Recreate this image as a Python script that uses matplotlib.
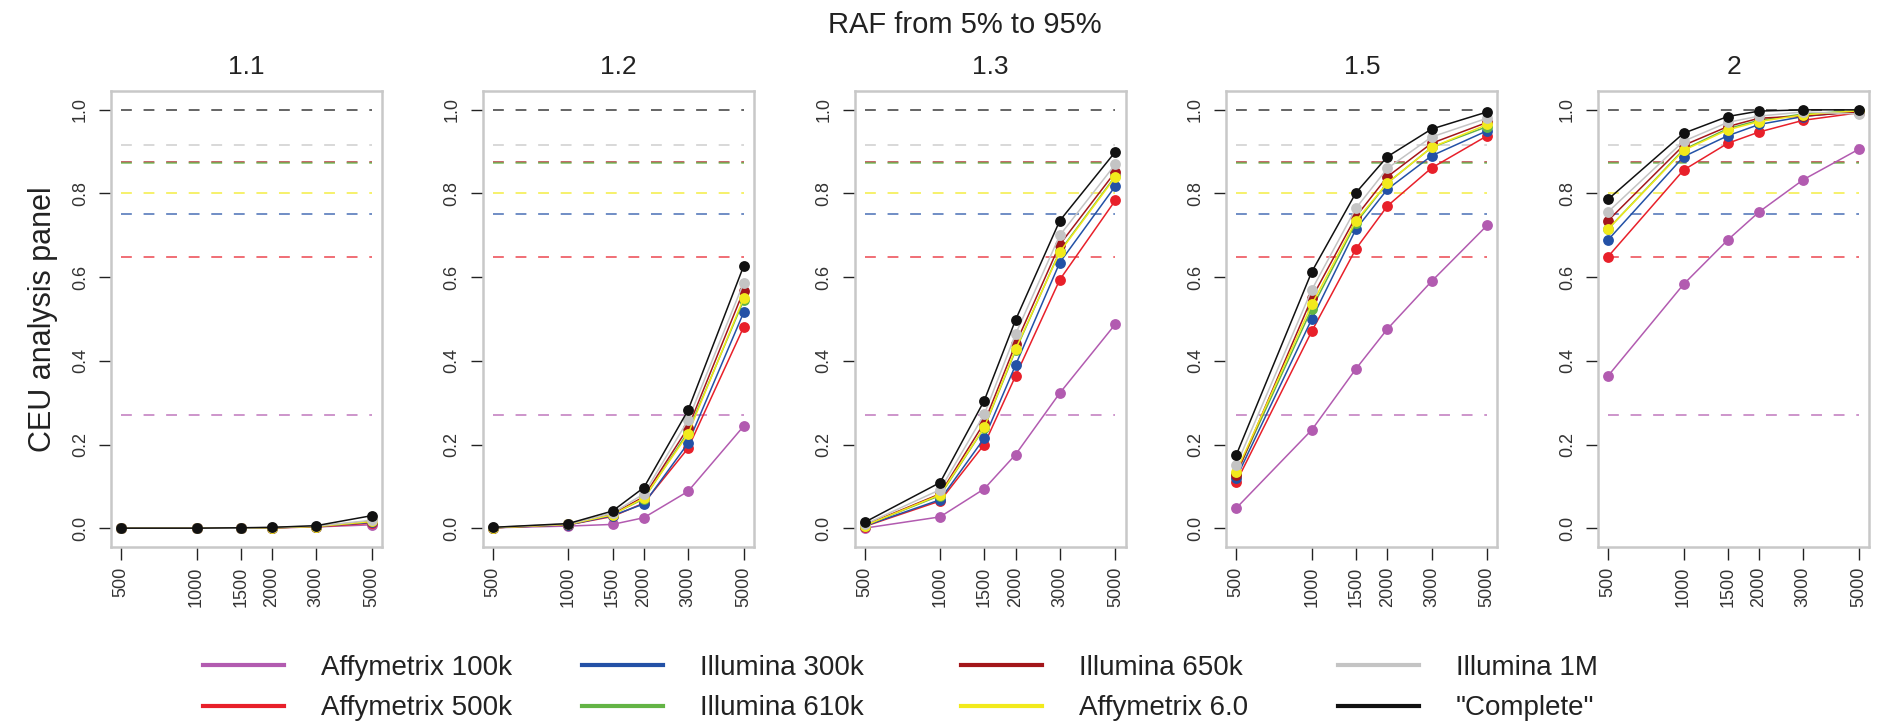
import matplotlib
matplotlib.use('Agg')
import matplotlib.pyplot as plt
from matplotlib.lines import Line2D

plt.rcParams['font.family'] = ['Liberation Sans', 'DejaVu Sans']

# sample sizes (x) and panel titles (relative risk)
sizes = [500, 1000, 1500, 2000, 3000, 5000]
panels = ['1.1', '1.2', '1.3', '1.5', '2']

platforms = ['Affymetrix 100k', 'Affymetrix 500k', 'Illumina 300k', 'Illumina 610k',
             'Illumina 650k', 'Affymetrix 6.0', 'Illumina 1M', '"Complete"']
colors = ['#b25bb0', '#e8202a', '#2351a6', '#63b445', '#a3161a', '#f2ea1c', '#c4c4c4', '#111111']

# coverage of each platform (dashed reference lines)
coverage = [0.27, 0.648, 0.752, 0.872, 0.875, 0.802, 0.915, 1.0]
dash_order = [0, 1, 2, 4, 3, 5, 6, 7]

# power per panel, one row per panel (1.1, 1.2, 1.3, 1.5, 2)
affy100k = [[0, 0, 0, 0.001, 0.003, 0.008],
            [0.001, 0.005, 0.009, 0.025, 0.088, 0.244],
            [0.0, 0.027, 0.094, 0.176, 0.323, 0.488],
            [0.048, 0.235, 0.381, 0.476, 0.590, 0.724],
            [0.364, 0.583, 0.689, 0.756, 0.833, 0.906]]
affy500k = [[0, 0, 0, 0.001, 0.003, 0.012],
            [0.001, 0.008, 0.028, 0.060, 0.191, 0.481],
            [0.004, 0.065, 0.200, 0.364, 0.594, 0.784],
            [0.110, 0.471, 0.668, 0.770, 0.861, 0.938],
            [0.649, 0.856, 0.920, 0.947, 0.975, 0.993]]
ill300k = [[0, 0, 0, 0.001, 0.004, 0.014],
           [0.001, 0.008, 0.030, 0.058, 0.203, 0.516],
           [0.005, 0.068, 0.215, 0.390, 0.635, 0.818],
           [0.120, 0.500, 0.715, 0.810, 0.890, 0.950],
           [0.689, 0.888, 0.938, 0.965, 0.984, 0.997]]
ill610k = [[0, 0, 0, 0.001, 0.004, 0.016],
           [0.001, 0.009, 0.033, 0.070, 0.230, 0.545],
           [0.006, 0.078, 0.240, 0.425, 0.662, 0.842],
           [0.130, 0.525, 0.730, 0.825, 0.910, 0.960],
           [0.715, 0.905, 0.955, 0.975, 0.990, 0.998]]
ill650k = [[0, 0, 0, 0.001, 0.004, 0.017],
           [0.001, 0.009, 0.034, 0.075, 0.240, 0.568],
           [0.007, 0.082, 0.252, 0.440, 0.678, 0.852],
           [0.128, 0.550, 0.745, 0.840, 0.920, 0.970],
           [0.735, 0.915, 0.960, 0.980, 0.985, 0.995]]
affy6 = [[0, 0, 0, 0.001, 0.004, 0.016],
         [0.001, 0.009, 0.032, 0.072, 0.225, 0.550],
         [0.006, 0.080, 0.241, 0.428, 0.660, 0.840],
         [0.135, 0.535, 0.735, 0.825, 0.910, 0.965],
         [0.715, 0.903, 0.952, 0.972, 0.988, 0.998]]
ill1m = [[0, 0, 0, 0.002, 0.005, 0.019],
         [0.002, 0.010, 0.036, 0.082, 0.258, 0.587],
         [0.009, 0.092, 0.272, 0.464, 0.700, 0.870],
         [0.150, 0.570, 0.765, 0.860, 0.935, 0.980],
         [0.756, 0.925, 0.970, 0.985, 0.995, 0.990]]
complete = [[0, 0, 0.001, 0.002, 0.006, 0.030],
            [0.002, 0.011, 0.041, 0.097, 0.282, 0.627],
            [0.014, 0.109, 0.305, 0.498, 0.735, 0.900],
            [0.175, 0.613, 0.802, 0.888, 0.954, 0.995],
            [0.786, 0.944, 0.984, 0.997, 1.0, 1.0]]

power = [affy100k, affy500k, ill300k, ill610k, ill650k, affy6, ill1m, complete]

W, H = 1877, 728
fig = plt.figure(figsize=(W / 100, H / 100), dpi=100)

x0, step, aw = 111, 371.75, 271
top, bot = 91, 547
lx = 10 ** (2.699 - 0.04)
rx = 10 ** (3.699 + 0.04)

for p in range(len(panels)):
    ax = fig.add_axes([(x0 + p * step) / W, 1 - bot / H, aw / W, (bot - top) / H])
    # dashed coverage lines
    for k in dash_order:
        ax.plot([sizes[0], sizes[-1]], [coverage[k], coverage[k]], color=colors[k],
                lw=1.3, alpha=0.7, dashes=(6, 6.5))
    for k in range(len(platforms)):
        ax.plot(sizes, power[k][p], color=colors[k], lw=1.1, marker='o', ms=7.8,
                markeredgewidth=0)
    ax.set_xscale('log')
    ax.set_xlim(lx, rx)
    ax.set_ylim(-0.045, 1.045)
    ax.set_xticks(sizes)
    ax.set_xticklabels([str(s) for s in sizes], rotation=90)
    ax.minorticks_off()
    ax.set_yticks([0, 0.2, 0.4, 0.6, 0.8, 1.0])
    ax.set_yticklabels(['0.0', '0.2', '0.4', '0.6', '0.8', '1.0'], rotation=90, va='center')
    ax.tick_params(axis='both', length=9, width=1, color='#222222', labelsize=13,
                   labelcolor='#333333')
    ax.tick_params(axis='y', pad=7)
    ax.tick_params(axis='x', pad=5)
    for s in ax.spines.values():
        s.set_color('#c8c8c8')
        s.set_linewidth(1.8)
    ax.set_title(panels[p], fontsize=19, color='#222222', pad=12)
    if p == 0:
        ax.set_ylabel('CEU analysis panel', fontsize=22, color='#222222', labelpad=10)

fig.text(965 / W, 1 - 25 / H, 'RAF from 5% to 95%', ha='center', va='center',
         fontsize=21, color='#222222')

# legend: four columns of two entries
col_x = [203, 582, 961, 1338]
for c in range(4):
    hs = [Line2D([], [], color=colors[2 * c + r], lw=3) for r in range(2)]
    fig.legend(hs, platforms[2 * c:2 * c + 2], loc='upper left',
               bbox_to_anchor=(col_x[c] / W, 1 - 655 / H), frameon=False,
               fontsize=20, handlelength=2.9, handletextpad=1.35, labelspacing=0.52,
               borderpad=0, borderaxespad=0, labelcolor='#222222')

fig.savefig('out.png', dpi=100)
